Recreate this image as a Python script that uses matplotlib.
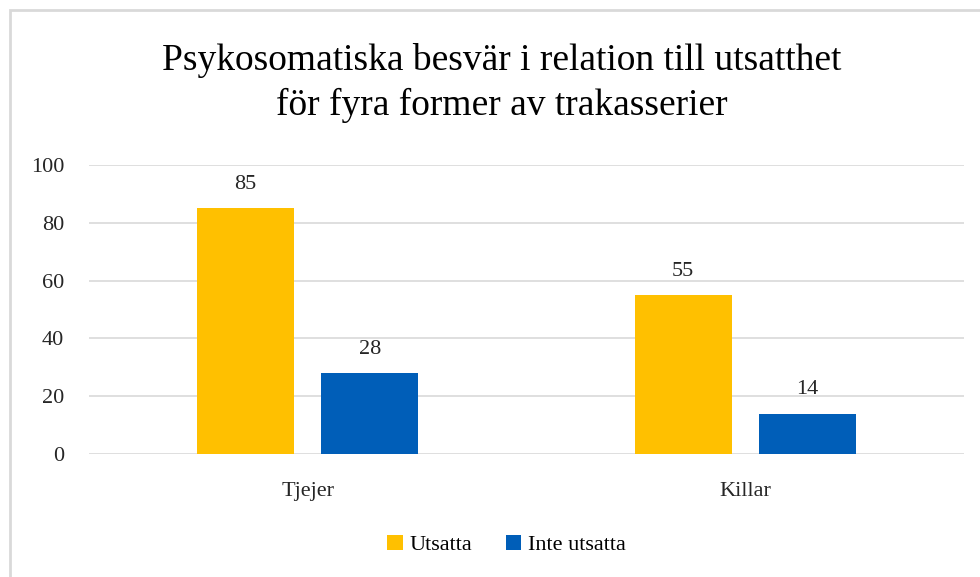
import matplotlib.pyplot as plt
import numpy as np
from matplotlib.patches import Rectangle

# data
kategorier = ['Tjejer', 'Killar']
utsatta = [85, 55]
inte_utsatta = [28, 14]
serier = ['Utsatta', 'Inte utsatta']
y_ticks = [0, 20, 40, 60, 80, 100]

plt.rcParams['font.family'] = ['Liberation Serif', 'DejaVu Serif']

fig = plt.figure(figsize=(9.8, 5.77), dpi=100)
ax = fig.add_axes([89 / 980, 1 - 454 / 577, 875 / 980, 289 / 577])

# light gray frame around the chart area
fig.patches.append(Rectangle((10 / 980, -0.05), 1.05, 1 - 10 / 577 + 0.05,
                             transform=fig.transFigure, fill=False,
                             edgecolor='#d9d9d9', linewidth=2))

x = np.arange(len(kategorier))
w = 0.222
off = 0.142
b1 = ax.bar(x - off, utsatta, w, color='#FFC000', label=serier[0], zorder=3)
b2 = ax.bar(x + off, inte_utsatta, w, color='#005EB8', label=serier[1], zorder=3)

for bars, vals in [(b1, utsatta), (b2, inte_utsatta)]:
    for b, v in zip(bars, vals):
        ax.text(b.get_x() + b.get_width() / 2, v + 5, str(v),
                ha='center', va='bottom', fontsize=16, color='#262626')

ax.set_xlim(-0.5, 1.5)
ax.set_ylim(0, 100)
ax.set_yticks(y_ticks)
ax.set_xticks(x)
ax.set_xticklabels(kategorier)
ax.tick_params(axis='both', length=0, labelsize=16, labelcolor='#262626')
ax.tick_params(axis='y', pad=18)
ax.tick_params(axis='x', pad=20)
ax.yaxis.grid(True, color='#d9d9d9', linewidth=1.2, zorder=0)
for s in ax.spines.values():
    s.set_visible(False)

fig.text(0.512, 1 - 60 / 577, 'Psykosomatiska besvär i relation till utsatthet',
         ha='center', va='center', fontsize=27, color='#000000')
fig.text(0.512, 1 - 105 / 577, 'för fyra former av trakasserier',
         ha='center', va='center', fontsize=27, color='#000000')

fig.legend(loc='center', bbox_to_anchor=(0.517, 1 - 545 / 577), ncol=2,
           frameon=False, fontsize=16, handlelength=0.7, handleheight=0.7,
           handletextpad=0.3, columnspacing=1.5)

fig.savefig('out.png', dpi=100)
